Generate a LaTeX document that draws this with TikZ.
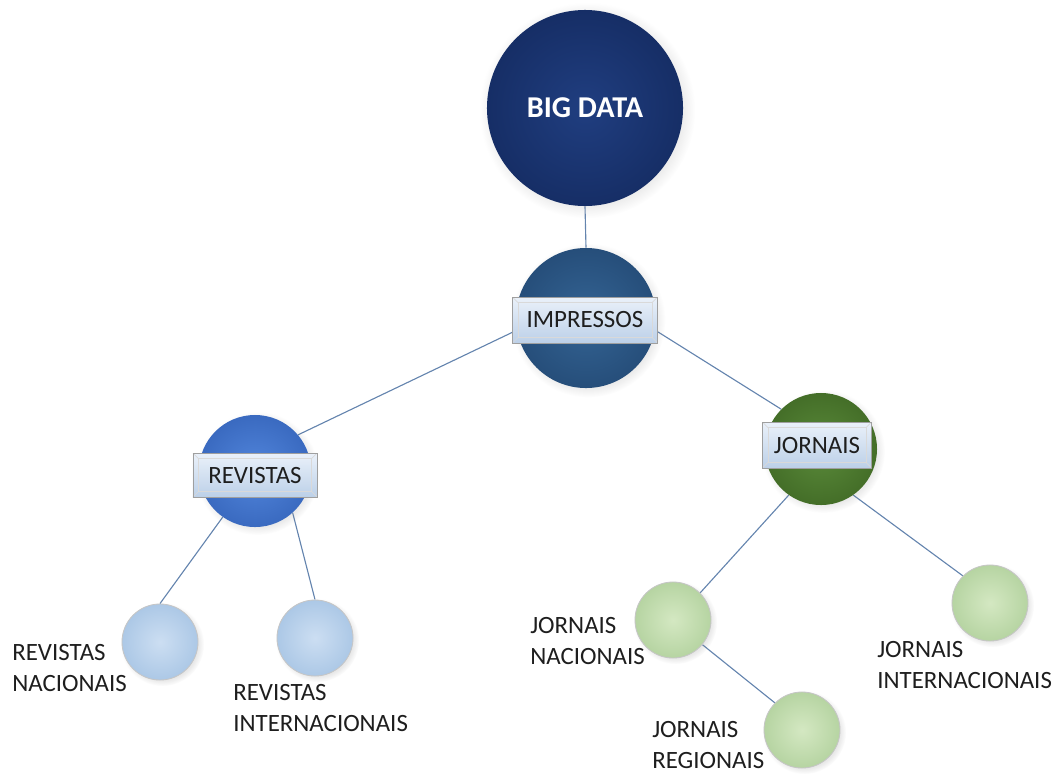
\documentclass[tikz,border=0pt]{standalone}
\usepackage{fontspec}
\setmainfont{Carlito}
\usetikzlibrary{calc,shadows,backgrounds}

\definecolor{bignavy}{RGB}{32,62,128}
\definecolor{bignavyd}{RGB}{22,46,102}
\definecolor{impblue}{RGB}{52,100,148}
\definecolor{impblued}{RGB}{38,78,122}
\definecolor{revblue}{RGB}{82,134,220}
\definecolor{revblued}{RGB}{58,106,192}
\definecolor{jorgreen}{RGB}{90,138,58}
\definecolor{jorgreend}{RGB}{68,110,40}
\definecolor{leafblue}{RGB}{204,222,242}
\definecolor{leafblued}{RGB}{172,200,230}
\definecolor{leafgreen}{RGB}{212,232,194}
\definecolor{leafgreend}{RGB}{182,212,162}
\definecolor{tagtop}{RGB}{234,241,250}
\definecolor{tagbot}{RGB}{188,208,232}
\definecolor{linkc}{RGB}{100,132,174}
\definecolor{txt}{RGB}{30,30,30}

\begin{document}
\begin{tikzpicture}[x=0.025cm,y=-0.025cm,
    ball/.style={circle,inner sep=0pt,
      circular drop shadow={shadow xshift=1.5pt,shadow yshift=-1.5pt,opacity=0.18}},
    leaf/.style={ball,minimum size=1.9cm,draw=gray!45,line width=0.6pt},
    tag/.style={draw=gray!75,line width=0.5pt,top color=tagtop,bottom color=tagbot,
      minimum height=1.15cm,inner sep=0pt,text=txt,
      font=\fontsize{17.7}{21}\selectfont,
      path picture={
        \draw[white!70!gray,line width=0.5pt]
          ($(path picture bounding box.south west)+(4pt,4pt)$) rectangle
          ($(path picture bounding box.north east)-(4pt,4pt)$);
        \draw[white!70!gray,line width=0.5pt]
          (path picture bounding box.south west) -- +(4pt,4pt)
          (path picture bounding box.north west) -- +(4pt,-4pt)
          (path picture bounding box.south east) -- +(-4pt,4pt)
          (path picture bounding box.north east) -- +(-4pt,-4pt);}},
    lbl/.style={anchor=west,align=left,inner sep=0pt,text=txt,
      font=\fontsize{17.7}{21.5}\selectfont},
    link/.style={draw=linkc,line width=0.8pt}]
    \useasboundingbox (0,0) rectangle (1052,778);
    %%
    \node[ball,minimum size=4.9cm,inner color=bignavy,outer color=bignavyd,
      text=white,font=\fontsize{21.5}{24}\selectfont\bfseries] (bigdata) at (585,108) {BIG DATA};
    \node[ball,minimum size=3.5cm,inner color=impblue,outer color=impblued] (imp) at (586,318) {};
    \node[tag,minimum width=3.625cm] (imptag) at (585,320) {IMPRESSOS};
    %%
    \node[ball,minimum size=2.8cm,inner color=revblue,outer color=revblued] (rev) at (255,471) {};
    \node[tag,minimum width=3.1cm,minimum height=1.1cm] (revtag) at (255,475) {REVISTAS};
    \node[ball,minimum size=2.8cm,inner color=jorgreen,outer color=jorgreend] (jor) at (821,449) {};
    \node[tag,minimum width=2.73cm] (jortag) at (817,445) {JORNAIS};
    %%
    \node[leaf,inner color=leafblue,outer color=leafblued] (revnac) at (160,642) {};
    \node[leaf,inner color=leafblue,outer color=leafblued] (revint) at (315,638) {};
    \node[leaf,inner color=leafgreen,outer color=leafgreend] (jornac) at (673,620) {};
    \node[leaf,inner color=leafgreen,outer color=leafgreend] (jorreg) at (802,730) {};
    \node[leaf,inner color=leafgreen,outer color=leafgreend] (jorint) at (990,603) {};
    %%
    \node[lbl] (lrevnac) at (12,668) {REVISTAS\\NACIONAIS};
    \node[lbl] (lrevint) at (233,708) {REVISTAS\\INTERNACIONAIS};
    \node[lbl] (ljornac) at (530,641) {JORNAIS\\NACIONAIS};
    \node[lbl] (ljorreg) at (652,745) {JORNAIS\\REGIONAIS};
    \node[lbl] (ljorint) at (877,665) {JORNAIS\\INTERNACIONAIS};
    %%
    \begin{scope}[on background layer]
      \draw[link] (bigdata.south) -- (imp.north);
      \draw[link] (rev.40) -- (imp.190);
      \draw[link] (imp.-10) -- (jor.135);
      \draw[link] (rev.235) -- (revnac.north);
      \draw[link] (rev.-48) -- (revint.north);
      \draw[link] (jor.235) -- (jornac.45);
      \draw[link] (jor.-55) -- (jorint.135);
      \draw[link] (jornac.-40) -- (jorreg.135);
    \end{scope}
  \end{tikzpicture}
\end{document}
